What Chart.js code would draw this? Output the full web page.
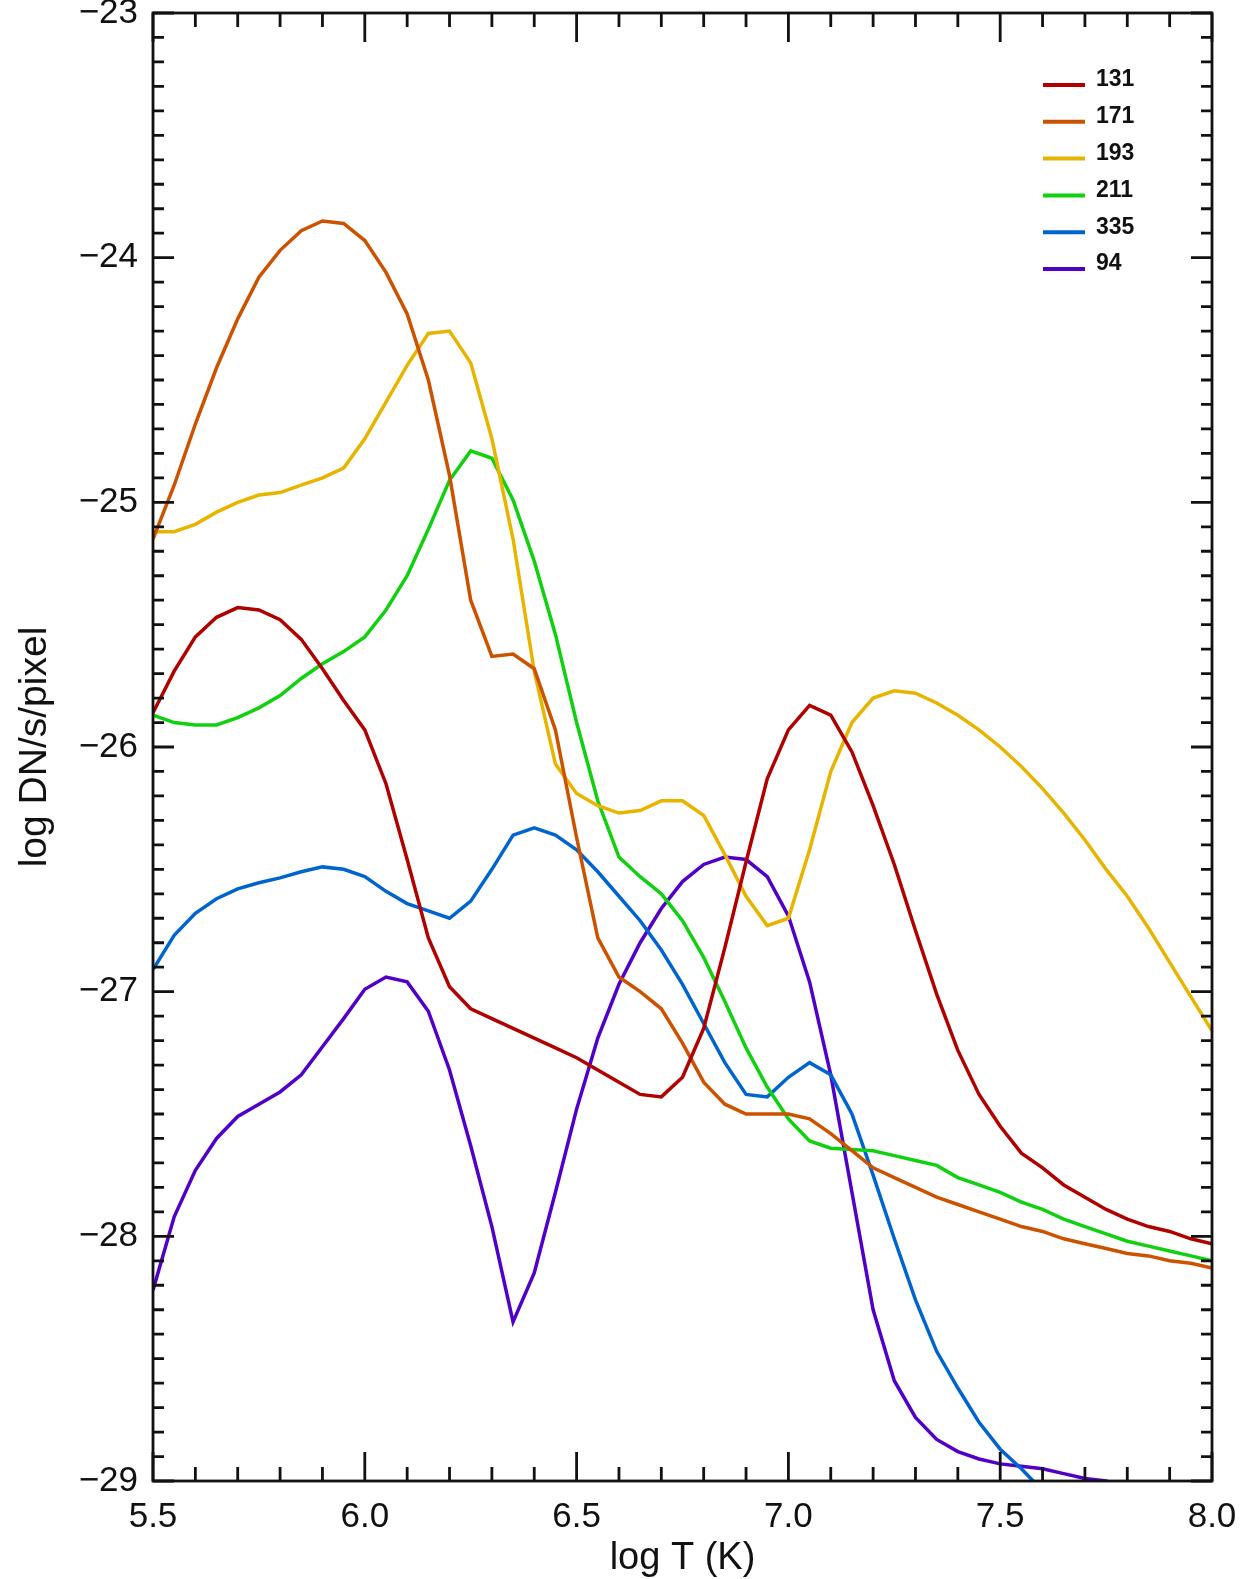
<!DOCTYPE html>
<html>
<head>
<meta charset="utf-8">
<title>AIA temperature response</title>
<script src="https://cdn.jsdelivr.net/npm/chart.js@4.4.0/dist/chart.umd.min.js"></script>
<style>
  html, body { margin: 0; padding: 0; background: #fff; }
</style>
</head>
<body>
<canvas id="responseChart" width="1255" height="1579"></canvas>
<script>
// log T grid (K)
const logT = [5.50, 5.55, 5.60, 5.65, 5.70, 5.75, 5.80, 5.85, 5.90, 5.95,
              6.00, 6.05, 6.10, 6.15, 6.20, 6.25, 6.30, 6.35, 6.40, 6.45,
              6.50, 6.55, 6.60, 6.65, 6.70, 6.75, 6.80, 6.85, 6.90, 6.95,
              7.00, 7.05, 7.10, 7.15, 7.20, 7.25, 7.30, 7.35, 7.40, 7.45,
              7.50, 7.55, 7.60, 7.65, 7.70, 7.75, 7.80, 7.85, 7.90, 7.95, 8.00];

// log DN/s/pixel per channel
const resp131 = [-25.86, -25.69, -25.55, -25.47, -25.43, -25.44, -25.48, -25.56, -25.68, -25.81,
                 -25.93, -26.15, -26.46, -26.78, -26.98, -27.07, -27.11, -27.15, -27.19, -27.23,
                 -27.27, -27.32, -27.37, -27.42, -27.43, -27.35, -27.15, -26.82, -26.47, -26.13,
                 -25.93, -25.83, -25.87, -26.02, -26.24, -26.48, -26.75, -27.01, -27.24, -27.42,
                 -27.55, -27.66, -27.72, -27.79, -27.84, -27.89, -27.93, -27.96, -27.98, -28.01, -28.03];
const resp171 = [-25.15, -24.93, -24.68, -24.45, -24.25, -24.08, -23.97, -23.89, -23.85, -23.86,
                 -23.93, -24.06, -24.23, -24.50, -24.89, -25.40, -25.63, -25.62, -25.68, -25.93,
                 -26.37, -26.78, -26.94, -27.00, -27.07, -27.21, -27.37, -27.46, -27.50, -27.50,
                 -27.50, -27.52, -27.58, -27.65, -27.72, -27.76, -27.80, -27.84, -27.87, -27.90,
                 -27.93, -27.96, -27.98, -28.01, -28.03, -28.05, -28.07, -28.08, -28.10, -28.11, -28.13];
const resp193 = [-25.12, -25.12, -25.09, -25.04, -25.00, -24.97, -24.96, -24.93, -24.90, -24.86,
                 -24.74, -24.59, -24.44, -24.31, -24.30, -24.43, -24.74, -25.15, -25.69, -26.07,
                 -26.19, -26.24, -26.27, -26.26, -26.22, -26.22, -26.28, -26.44, -26.61, -26.73,
                 -26.70, -26.42, -26.10, -25.90, -25.80, -25.77, -25.78, -25.82, -25.87, -25.93,
                 -26.00, -26.08, -26.17, -26.27, -26.38, -26.50, -26.61, -26.74, -26.88, -27.02, -27.16];
const resp211 = [-25.87, -25.90, -25.91, -25.91, -25.88, -25.84, -25.79, -25.72, -25.66, -25.61,
                 -25.55, -25.44, -25.30, -25.11, -24.91, -24.79, -24.82, -24.99, -25.24, -25.54,
                 -25.90, -26.22, -26.45, -26.53, -26.60, -26.71, -26.86, -27.04, -27.23, -27.39,
                 -27.52, -27.61, -27.64, -27.645, -27.65, -27.67, -27.69, -27.71, -27.76, -27.79,
                 -27.82, -27.86, -27.89, -27.93, -27.96, -27.99, -28.02, -28.04, -28.06, -28.08, -28.10];
const resp335 = [-26.91, -26.77, -26.68, -26.62, -26.58, -26.555, -26.535, -26.51, -26.49, -26.50,
                 -26.53, -26.59, -26.64, -26.67, -26.70, -26.63, -26.50, -26.36, -26.33, -26.36,
                 -26.42, -26.51, -26.61, -26.71, -26.83, -26.97, -27.13, -27.29, -27.42, -27.43,
                 -27.35, -27.29, -27.34, -27.50, -27.75, -28.01, -28.26, -28.47, -28.62, -28.76,
                 -28.87, -28.95, -29.04, -29.12, null, null, null, null, null, null, null];
const resp94  = [-28.22, -27.92, -27.73, -27.60, -27.51, -27.46, -27.41, -27.34, -27.225, -27.11,
                 -26.99, -26.94, -26.96, -27.08, -27.32, -27.63, -27.96, -28.35, -28.15, -27.82,
                 -27.48, -27.19, -26.97, -26.80, -26.66, -26.55, -26.48, -26.45, -26.46, -26.53,
                 -26.69, -26.96, -27.34, -27.82, -28.30, -28.59, -28.74, -28.83, -28.88, -28.91,
                 -28.93, -28.94, -28.95, -28.97, -28.99, -29.00, -29.03, -29.06, null, null, null];

const channels = ['131', '171', '193', '211', '335', '94'];
const channelData = [resp131, resp171, resp193, resp211, resp335, resp94];
const channelColors = ['#b00000', '#cc5200', '#e8b400', '#10d010', '#0064d0', '#5000c8'];

const fontFamily = "'Liberation Sans', Arial, sans-serif";

// inward ticks on all four sides plus the box
const frameTicks = {
    id: 'frameTicks',
    afterDatasetsDraw(chart) {
        const { ctx, chartArea: a, scales: { x, y } } = chart;
        ctx.save();
        ctx.strokeStyle = '#111';
        ctx.lineWidth = 2.8;
        ctx.beginPath();
        for (let i = 0; i <= 25; i++) {
            const px = x.getPixelForValue(5.5 + i * 0.1);
            const len = (i % 5 === 0) ? 29 : 14;
            ctx.moveTo(px, a.bottom); ctx.lineTo(px, a.bottom - len);
            ctx.moveTo(px, a.top); ctx.lineTo(px, a.top + len);
        }
        for (let i = 0; i <= 60; i++) {
            const py = y.getPixelForValue(-29 + i * 0.1);
            const len = (i % 10 === 0) ? 21 : 11;
            ctx.moveTo(a.left, py); ctx.lineTo(a.left + len, py);
            ctx.moveTo(a.right, py); ctx.lineTo(a.right - len, py);
        }
        ctx.stroke();
        ctx.strokeRect(a.left, a.top, a.right - a.left, a.bottom - a.top);
        ctx.restore();
    }
};

// small legend in the upper right corner
const channelLegend = {
    id: 'channelLegend',
    afterDraw(chart) {
        const { ctx, chartArea: a } = chart;
        ctx.save();
        ctx.font = 'bold 23px ' + fontFamily;
        ctx.textBaseline = 'middle';
        ctx.fillStyle = '#111';
        chart.data.datasets.forEach((ds, i) => {
            const ly = a.top + 72 + i * 36.8;
            ctx.strokeStyle = ds.borderColor;
            ctx.lineWidth = 4;
            ctx.beginPath();
            ctx.moveTo(a.right - 169, ly);
            ctx.lineTo(a.right - 127, ly);
            ctx.stroke();
            ctx.fillText(ds.label, a.right - 116, ly - 5);
        });
        ctx.restore();
    }
};

const ctx = document.getElementById('responseChart').getContext('2d');
const responseChart = new Chart(ctx, {
    type: 'line',
    data: {
        datasets: channels.map((name, i) => ({
            label: name,
            data: logT.map((t, j) => ({ x: t, y: channelData[i][j] })),
            borderColor: channelColors[i],
            borderWidth: 3.5,
            pointRadius: 0,
            tension: 0,
            fill: false
        }))
    },
    options: {
        responsive: false,
        animation: false,
        layout: { padding: { top: 13, right: 43, left: 0, bottom: 0 } },
        plugins: {
            legend: { display: false },
            tooltip: { enabled: false }
        },
        scales: {
            x: {
                type: 'linear',
                min: 5.5,
                max: 8.0,
                grid: { display: false, drawTicks: false },
                border: { display: false },
                ticks: {
                    stepSize: 0.5,
                    padding: 15,
                    color: '#111',
                    font: { family: fontFamily, size: 35 },
                    callback: v => v.toFixed(1)
                },
                title: {
                    display: true,
                    text: 'log T (K)',
                    color: '#111',
                    font: { family: fontFamily, size: 38 },
                    padding: { top: 0, bottom: -2 }
                },
                afterFit(scale) {
                    scale.height = 98;
                    scale.paddingLeft = 0;
                    scale.paddingRight = 0;
                }
            },
            y: {
                min: -29,
                max: -23,
                grid: { display: false, drawTicks: false },
                border: { display: false },
                ticks: {
                    stepSize: 1,
                    padding: 15,
                    color: '#111',
                    font: { family: fontFamily, size: 35 },
                    callback: v => '\u2212' + Math.abs(v)
                },
                title: {
                    display: true,
                    text: 'log DN/s/pixel',
                    color: '#111',
                    font: { family: fontFamily, size: 39 },
                    padding: { top: 12, bottom: 0 }
                },
                afterFit(scale) {
                    scale.width = 153;
                    scale.paddingTop = 0;
                    scale.paddingBottom = 0;
                }
            }
        }
    },
    plugins: [frameTicks, channelLegend]
});
</script>
</body>
</html>
